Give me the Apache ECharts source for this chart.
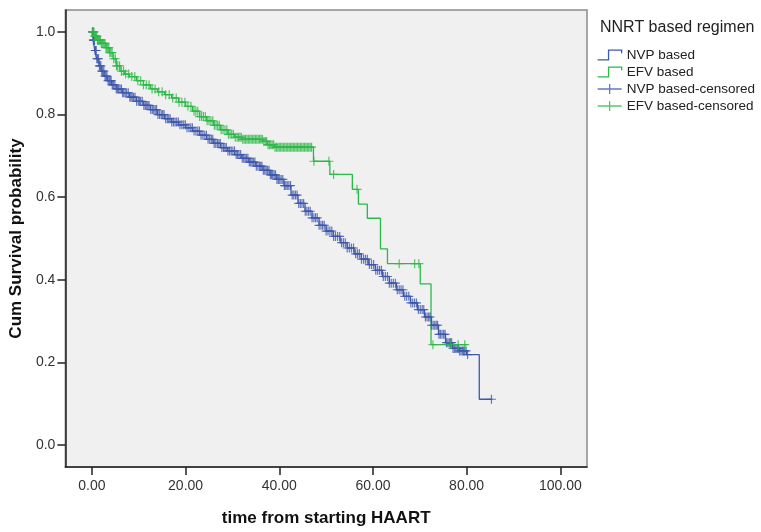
<!DOCTYPE html>
<html>
<head>
<meta charset="utf-8">
<script src="https://cdn.jsdelivr.net/npm/echarts@6/dist/echarts.min.js"></script>
<style>
html,body{margin:0;padding:0;background:#fff;}
#chart{width:761px;height:532px;}
</style>
</head>
<body>
<div id="chart"></div>
<script>
// ---- data ----
const xTicks = [0, 20, 40, 60, 80, 100];
const yTicks = [0, 0.2, 0.4, 0.6, 0.8, 1.0];

// Kaplan-Meier step points [time, survival after event]
const nvpCurve = [
  [0,1.0],[0.3,0.98],[0.6,0.955],[1,0.935],[1.5,0.918],[2,0.905],[2.6,0.893],[3.3,0.882],
  [4.2,0.872],[5.2,0.862],[6.5,0.853],[8,0.842],[9.5,0.832],[11,0.822],[12.5,0.812],[14,0.8],
  [15.5,0.79],[17,0.782],[18.5,0.775],[20,0.768],[21.5,0.76],[23,0.75],[24.5,0.74],[26,0.73],
  [27.5,0.72],[29,0.712],[30.5,0.703],[32,0.694],[33.5,0.685],[35,0.675],[36.5,0.665],[38,0.654],
  [39.5,0.643],[41,0.628],[42.5,0.605],[44,0.585],[45.5,0.566],[47,0.55],[48.5,0.532],[50,0.518],
  [51.5,0.505],[53,0.49],[54.5,0.477],[56,0.463],[57.5,0.45],[59,0.437],[60.5,0.423],[62,0.408],
  [63.5,0.392],[65,0.376],[66.5,0.36],[68,0.344],[69.5,0.328],[71,0.31],[72.5,0.29],[74,0.268],
  [75.5,0.248],[77,0.234],[78.5,0.228],[80,0.219],[82.7,0.111],[85.5,0.111]
];
const efvCurve = [
  [0,1.0],[0.5,0.99],[1.2,0.98],[2,0.972],[3,0.962],[3.8,0.95],[4.5,0.935],[5.2,0.918],[6,0.905],
  [7,0.898],[8,0.892],[9.5,0.882],[11,0.872],[12.5,0.862],[14,0.855],[15.5,0.848],[17,0.84],
  [18.5,0.83],[20,0.82],[21.5,0.808],[23,0.795],[24.5,0.785],[26,0.774],[27.5,0.763],[29,0.752],
  [30.5,0.745],[32,0.74],[36.5,0.735],[37.5,0.727],[39,0.721],[47.3,0.687],[50.8,0.655],
  [55.6,0.619],[56.9,0.583],[58.8,0.549],[61.6,0.475],[63.1,0.439],[70.1,0.39],[72.4,0.243],[80.2,0.243]
];

// censoring times
const nvpCensored = [
  0.1,0.2,0.3,0.4,0.55,0.7,0.8,0.9,1.05,1.2,1.4,1.6,1.75,1.9,2.1,2.3,2.55,2.8,3,3.2,3.45,3.7,3.9,
  4.1,4.35,4.6,4.9,5.2,5.45,5.7,6,6.3,6.55,6.8,7.1,7.4,7.75,8.1,8.35,8.6,8.9,9.2,9.55,9.9,10.15,
  10.4,10.75,11.1,11.4,11.7,11.95,12.2,12.55,12.9,13.2,13.5,13.8,14.1,14.45,14.8,15.1,15.4,15.75,
  16.1,16.4,16.7,17.05,17.4,17.75,18.1,18.45,18.8,19.2,19.6,19.95,20.3,20.7,21.1,21.45,21.8,22.2,
  22.6,22.95,23.3,23.7,24.1,24.45,24.8,25.15,25.5,25.8,26.1,26.45,26.8,27.1,27.4,27.75,28.1,28.4,
  28.7,29.05,29.4,29.75,30.1,30.45,30.8,31.1,31.4,31.75,32.1,32.4,32.7,33,33.3,33.6,33.9,34.2,
  34.5,34.8,35.1,35.45,35.8,36.05,36.3,36.6,36.9,37.2,37.5,37.8,38.1,38.35,38.6,38.9,39.2,39.5,
  39.8,40.1,40.4,40.75,41.1,41.4,41.7,42.05,42.4,42.75,43.1,43.45,43.8,44.15,44.5,44.85,45.2,
  45.55,45.9,46.25,46.6,47,47.4,47.75,48.1,48.5,48.9,49.25,49.6,50,50.4,50.8,51.2,51.6,52,52.45,
  52.9,53.3,53.7,54.1,54.5,54.95,55.4,55.85,56.3,56.7,57.1,57.55,58,58.4,58.8,59.25,59.7,60.15,
  60.6,61,61.4,61.8,62.2,62.65,63.1,63.5,63.9,64.35,64.8,65.2,65.6,66,66.4,66.8,67.2,67.65,68.1,
  68.5,68.9,69.3,69.7,70.1,70.5,70.85,71.2,71.55,71.9,72.2,72.5,72.85,73.2,73.5,73.8,74.1,74.4,
  74.75,75.1,75.4,75.7,76,76.3,76.55,76.8,77.1,77.4,77.7,78,78.25,78.5,78.8,79.1,79.35,79.6,
  79.9,80.2,85.3
];
const efvCensored = [
  0.15,0.3,0.45,0.6,0.75,0.9,1.05,1.2,1.35,1.5,1.65,1.8,2,2.2,2.4,2.6,2.8,3,3.2,3.4,3.6,3.8,4.05,
  4.3,4.65,5,5.25,5.5,5.9,6.3,6.75,7.2,7.85,8.5,9.15,9.8,10.4,11,11.6,12.2,12.85,13.5,14.25,15,
  15.75,16.5,17.25,18,18.6,19.2,19.85,20.5,21.15,21.8,22.2,22.6,23,23.4,23.8,24.2,24.6,25,25.4,
  25.8,26.15,26.5,26.85,27.2,27.6,28,28.4,28.8,29.15,29.5,29.85,30.2,30.6,31,31.3,31.6,31.9,32.2,
  32.5,32.8,33.1,33.4,33.7,34,34.3,34.6,34.9,35.2,35.5,35.8,36.1,36.4,36.7,37,37.3,37.6,37.9,38.2,
  38.5,38.8,39.1,39.4,39.7,40,40.3,40.6,40.9,41.2,41.5,41.8,42.1,42.4,42.7,43,43.3,43.6,43.9,44.2,
  44.5,44.8,45.1,45.4,45.7,46,46.3,46.6,46.9,47.4,50.6,51.6,56.6,65.6,68.9,69.8,72.8,76.6,78.2,79.6
];

// ---- helpers ----
function survAt(curve, t) {
  let y = curve[0][1];
  for (const p of curve) { if (p[0] <= t) y = p[1]; else break; }
  return y;
}
const BLUE = '#3E58AC', GREEN = '#2EB848';
const FONT = 'Liberation Sans, Arial, sans-serif';
const plus = 'path://M0,-4L0,4M-4,0L4,0';

const chart = echarts.init(document.getElementById('chart'), null, {renderer: 'canvas'});
chart.setOption({
  animation: false,
  backgroundColor: '#fff',
  textStyle: {fontFamily: FONT},
  title: {
    text: 'NNRT based regimen', left: 600, top: 20, padding: 0,
    textStyle: {fontSize: 16, fontWeight: 'normal', color: '#222', fontFamily: FONT}
  },
  legend: {
    orient: 'vertical', left: 597, top: 48, padding: 0,
    itemWidth: 24, itemHeight: 12, itemGap: 3,
    textStyle: {fontSize: 13.5, color: '#222', fontFamily: FONT},
    data: [
      {name: 'NVP based', icon: 'path://M0,10L10,10L10,1L22,1L22,4', itemStyle: {color: 'transparent', borderColor: BLUE, borderWidth: 1.3}},
      {name: 'EFV based', icon: 'path://M0,10L10,10L10,1L22,1L22,4', itemStyle: {color: 'transparent', borderColor: GREEN, borderWidth: 1.3}},
      {name: 'NVP based-censored', icon: 'path://M0,5L24,5M12,0L12,10', itemStyle: {color: 'transparent', borderColor: BLUE, borderWidth: 1.3}},
      {name: 'EFV based-censored', icon: 'path://M0,5L24,5M12,0L12,10', itemStyle: {color: 'transparent', borderColor: GREEN, borderWidth: 1.3}}
    ]
  },
  grid: {
    left: 62, top: 10, width: 525, height: 459,
    show: true, backgroundColor: '#F0F0F0', borderColor: '#8a8a8a', borderWidth: 1.5
  },
  xAxis: {
    type: 'value', min: -5.67, max: 105.7,
    name: 'time from starting HAART', nameLocation: 'middle', nameGap: 43,
    nameTextStyle: {fontSize: 17, fontWeight: 'bold', color: '#111', fontFamily: FONT},
    axisLine: {show: true, onZero: false, lineStyle: {color: '#222', width: 1.5}},
    axisTick: {show: true, length: 8, customValues: xTicks, lineStyle: {color: '#222', width: 1.5}},
    axisLabel: {customValues: xTicks, formatter: v => v.toFixed(2), fontSize: 14, color: '#333', margin: 12, fontFamily: FONT},
    splitLine: {show: false}
  },
  yAxis: {
    type: 'value', min: -0.053, max: 1.053,
    name: 'Cum Survival probability', nameLocation: 'middle', nameGap: 36,
    nameTextStyle: {fontSize: 17, fontWeight: 'bold', color: '#111', fontFamily: FONT},
    axisLine: {show: true, onZero: false, lineStyle: {color: '#222', width: 1.5}},
    axisTick: {show: true, length: 8, customValues: yTicks, lineStyle: {color: '#222', width: 1.5}},
    axisLabel: {customValues: yTicks, formatter: v => v.toFixed(1), fontSize: 14, color: '#333', margin: 10, fontFamily: FONT},
    splitLine: {show: false}
  },
  series: [
    {name: 'EFV based', type: 'line', step: 'end', data: efvCurve, symbol: 'none', silent: true,
     lineStyle: {color: GREEN, width: 1.3}, itemStyle: {color: GREEN}, z: 2},
    {name: 'NVP based', type: 'line', step: 'end', data: nvpCurve, symbol: 'none', silent: true,
     lineStyle: {color: BLUE, width: 1.3}, itemStyle: {color: BLUE}, z: 3},
    {name: 'NVP based-censored', type: 'scatter', silent: true, symbol: plus, symbolSize: 9,
     data: nvpCensored.map(t => [t, survAt(nvpCurve, t)]),
     itemStyle: {color: 'transparent', borderColor: BLUE, borderWidth: 1.2}, z: 4},
    {name: 'EFV based-censored', type: 'scatter', silent: true, symbol: plus, symbolSize: 9,
     data: efvCensored.map(t => [t, survAt(efvCurve, t)]),
     itemStyle: {color: 'transparent', borderColor: GREEN, borderWidth: 1.2}, z: 5}
  ]
});
</script>
</body>
</html>
